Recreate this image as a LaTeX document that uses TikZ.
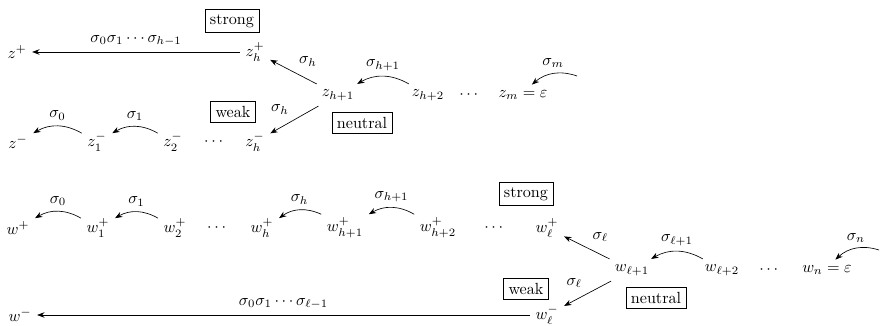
\documentclass[tikz,border=0pt]{standalone}
\usepackage{amsmath,amssymb}
\usetikzlibrary{arrows.meta}
\tikzset{
  tagbox/.style={draw, inner sep=3pt},
  bendarrow/.style={-{Stealth[length=1.6mm]}, bend right=30},
  link/.style={-{Stealth[length=1.6mm]}}
}

\begin{document}
\begin{tikzpicture}[x=0.62pt, y=-0.62pt]
\useasboundingbox (0,0) rectangle (880,326);
% z rows
\node (zp) at (17,52) {$z^+$};
\node (zhp) at (255,52) {$z_h^+$};
\node[tagbox] (strongA) at (232,21) {strong};
\node (zhone) at (338,95) {$z_{h+1}$};
\node (zhtwo) at (428,95) {$z_{h+2}$};
\node (zdots) at (470,95) {$\cdots$};
\node (zm) at (523,95) {$z_m=\varepsilon$};
\coordinate (zmnext) at (577,76);
\node[tagbox] (neutralA) at (362,123) {neutral};
\node[tagbox] (weakA) at (233,112) {weak};
\node (zmin) at (18,142) {$z^-$};
\node (zmone) at (97,142) {$z_1^-$};
\node (zmtwo) at (173,142) {$z_2^-$};
\node (zmdots) at (215,142) {$\cdots$};
\node (zmh) at (255,142) {$z_h^-$};
\draw[link] (zhp) -- (zp) node[midway, above] {$\sigma_0\sigma_1\cdots\sigma_{h-1}$};
\draw[link] (zhone) -- (zhp) node[midway, above right] {$\sigma_h$};
\draw[link] (zhone) -- (zmh) node[midway, above left] {$\sigma_h$};
\draw[bendarrow] (zhtwo) to node[above] {$\sigma_{h+1}$} (zhone);
\draw[bendarrow] (zmnext) to node[above] {$\sigma_m$} (zm);
\draw[bendarrow] (zmone) to node[above] {$\sigma_0$} (zmin);
\draw[bendarrow] (zmtwo) to node[above] {$\sigma_1$} (zmone);
% w rows
\node (wp) at (18,228) {$w^+$};
\node (wpone) at (98,228) {$w_1^+$};
\node (wptwo) at (175,228) {$w_2^+$};
\node (wpdots) at (218,228) {$\cdots$};
\node (wph) at (262,228) {$w_h^+$};
\node (wphone) at (345,228) {$w_{h+1}^+$};
\node (wphtwo) at (438,228) {$w_{h+2}^+$};
\node (wpdotsb) at (495,228) {$\cdots$};
\node (wpl) at (547,228) {$w_\ell^+$};
\node[tagbox] (strongB) at (526,194) {strong};
\node (wlone) at (632,270) {$w_{\ell+1}$};
\node (wltwo) at (722,270) {$w_{\ell+2}$};
\node (wdots) at (770,270) {$\cdots$};
\node (wn) at (827,270) {$w_n=\varepsilon$};
\coordinate (wnnext) at (879,250);
\node[tagbox] (neutralB) at (656,298) {neutral};
\node[tagbox] (weakB) at (526,289) {weak};
\node (wmin) at (20,315) {$w^-$};
\node (wml) at (547,315) {$w_\ell^-$};
\draw[bendarrow] (wpone) to node[above] {$\sigma_0$} (wp);
\draw[bendarrow] (wptwo) to node[above] {$\sigma_1$} (wpone);
\draw[bendarrow] (wphone) to node[above] {$\sigma_h$} (wph);
\draw[bendarrow] (wphtwo) to node[above] {$\sigma_{h+1}$} (wphone);
\draw[link] (wlone) -- (wpl) node[midway, above right] {$\sigma_\ell$};
\draw[link] (wlone) -- (wml) node[midway, above left] {$\sigma_\ell$};
\draw[bendarrow] (wltwo) to node[above] {$\sigma_{\ell+1}$} (wlone);
\draw[bendarrow] (wnnext) to node[above] {$\sigma_n$} (wn);
\draw[link] (wml.west) -- (wmin.east) node[midway, above] {$\sigma_0\sigma_1\cdots\sigma_{\ell-1}$};
\end{tikzpicture}
\end{document}
